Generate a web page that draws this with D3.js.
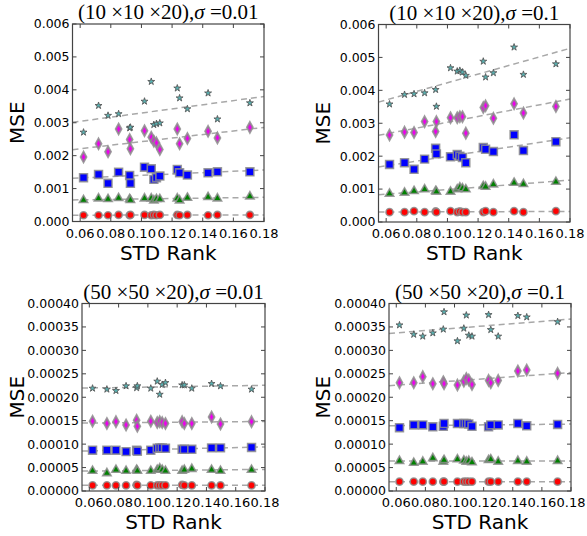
<!DOCTYPE html>
<html>
<head>
<meta charset="utf-8">
<script src="https://cdn.jsdelivr.net/npm/d3@7"></script>
<style>
  body { margin: 0; background: #fff; }
  text { font-family: "DejaVu Sans", sans-serif; fill: #000; }
  .title { font-family: "Liberation Serif", "DejaVu Serif", serif; }
</style>
</head>
<body>
<div id="chart"></div>
<script>
// shared x values (STD rank of each run)
var stdRank = [0.0622, 0.0720, 0.0782, 0.0851, 0.0923, 0.0928, 0.1020, 0.1064, 0.1081,
  0.1098, 0.1120, 0.1234, 0.1249, 0.1300, 0.1435, 0.1496, 0.1708];

var xTicks = [0.06, 0.08, 0.10, 0.12, 0.14, 0.16, 0.18];
var yTicksSmall = [0, 0.001, 0.002, 0.003, 0.004, 0.005, 0.006];
var yTicksLarge = [0, 0.00005, 0.0001, 0.00015, 0.0002, 0.00025, 0.0003, 0.00035, 0.0004];

var titles = ["(10 \u00d710 \u00d720),", "(10 \u00d710 \u00d720),", "(50 \u00d750 \u00d720),", "(50 \u00d750 \u00d720),"];
var sigmas = ["0.01", "0.1", "0.01", "0.1"];

// panel 1: (10x10x20), sigma = 0.01
var p1Circle = [0.00019, 0.00019, 0.00019, 0.0002, 0.00019, 0.0002, 0.0002, 0.00019, 0.0002, 0.00019, 0.0002, 0.0002, 0.00019, 0.0002, 0.00019, 0.0002, 0.0002];
var p1Triangle = [0.00065, 0.0007, 0.00068, 0.00071, 0.00068, 0.00065, 0.0007, 0.0007, 0.00064, 0.00068, 0.00068, 0.0007, 0.00064, 0.00072, 0.00074, 0.0007, 0.00076];
var p1Square = [0.00133, 0.00143, 0.00116, 0.0015, 0.0014, 0.00116, 0.00165, 0.0016, 0.00128, 0.00133, 0.00138, 0.00158, 0.00148, 0.00141, 0.00148, 0.00151, 0.00151];
var p1Diamond = [0.00196, 0.00236, 0.00212, 0.00281, 0.00249, 0.00221, 0.00276, 0.00256, 0.00244, 0.00239, 0.00219, 0.00281, 0.00236, 0.00252, 0.00274, 0.00254, 0.00286];
var p1Star = [0.00271, 0.00352, 0.00322, 0.00327, 0.00284, 0.00286, 0.00365, 0.00425, 0.00294, 0.00297, 0.00299, 0.00405, 0.00375, 0.00342, 0.0039, 0.00311, 0.0036];

// panel 2: (10x10x20), sigma = 0.1
var p2Circle = [0.0003, 0.0003, 0.00033, 0.0003, 0.00032, 0.0003, 0.00033, 0.0003, 0.00032, 0.0003, 0.0003, 0.0003, 0.00033, 0.0003, 0.00033, 0.0003, 0.00033];
var p2Triangle = [0.00086, 0.00089, 0.00094, 0.00099, 0.00094, 0.00092, 0.00092, 0.00099, 0.00105, 0.00102, 0.00099, 0.00109, 0.00107, 0.00114, 0.00119, 0.00115, 0.00122];
var p2Square = [0.00175, 0.0018, 0.0016, 0.00191, 0.00224, 0.00207, 0.00198, 0.00205, 0.002, 0.00196, 0.0018, 0.00226, 0.00221, 0.00214, 0.00265, 0.00217, 0.00244];
var p2Diamond = [0.00264, 0.00273, 0.00272, 0.00305, 0.00275, 0.00305, 0.00317, 0.00317, 0.0032, 0.0032, 0.0027, 0.00348, 0.00353, 0.00315, 0.00359, 0.00331, 0.00351];
var p2Star = [0.00358, 0.00387, 0.00389, 0.00392, 0.00402, 0.00351, 0.00468, 0.00458, 0.0046, 0.00455, 0.00445, 0.00488, 0.0044, 0.00453, 0.00531, 0.00448, 0.0048];

// panel 3: (50x50x20), sigma = 0.01
var p3Circle = [1.2e-5, 1.2e-5, 1.2e-5, 1.2e-5, 1.3e-5, 1.2e-5, 1.2e-5, 1.2e-5, 1.2e-5, 1.2e-5, 1.2e-5, 1.3e-5, 1.2e-5, 1.2e-5, 1.2e-5, 1.2e-5, 1.2e-5];
var p3Triangle = [4.3e-5, 3.8e-5, 4.5e-5, 4.3e-5, 4.5e-5, 4.3e-5, 4.3e-5, 4.5e-5, 4.8e-5, 4.5e-5, 4.3e-5, 4.3e-5, 4.5e-5, 4.7e-5, 4.5e-5, 4.3e-5, 4.5e-5];
var p3Square = [8.7e-5, 8.7e-5, 8.7e-5, 8.4e-5, 8.7e-5, 8.5e-5, 8.7e-5, 9.1e-5, 9.2e-5, 9.2e-5, 9.1e-5, 8.9e-5, 8.9e-5, 8.9e-5, 9.2e-5, 9.2e-5, 9.3e-5];
var p3Diamond = [1.49e-4, 1.44e-4, 1.48e-4, 1.41e-4, 1.51e-4, 1.38e-4, 1.49e-4, 1.46e-4, 1.48e-4, 1.46e-4, 1.44e-4, 1.48e-4, 1.44e-4, 1.44e-4, 1.58e-4, 1.43e-4, 1.48e-4];
var p3Star = [2.19e-4, 2.17e-4, 2.14e-4, 2.24e-4, 2.2e-4, 2.24e-4, 2.19e-4, 2.34e-4, 2.06e-4, 2.27e-4, 2.31e-4, 2.26e-4, 2.26e-4, 2.19e-4, 2.29e-4, 2.24e-4, 2.17e-4];

// panel 4: (50x50x20), sigma = 0.1
var p4Circle = [2e-5, 2e-5, 2e-5, 2e-5, 2e-5, 2e-5, 2e-5, 2e-5, 2e-5, 2e-5, 2e-5, 2e-5, 2e-5, 2e-5, 2e-5, 2e-5, 2e-5];
var p4Triangle = [6.4e-5, 6.0e-5, 6.25e-5, 7.0e-5, 6.25e-5, 6.6e-5, 6.75e-5, 6.5e-5, 6.25e-5, 6.4e-5, 6.1e-5, 6.6e-5, 6.75e-5, 6.25e-5, 6.4e-5, 6.25e-5, 6.4e-5];
var p4Square = [1.35e-4, 1.41e-4, 1.41e-4, 1.37e-4, 1.38e-4, 1.44e-4, 1.44e-4, 1.44e-4, 1.44e-4, 1.43e-4, 1.38e-4, 1.37e-4, 1.41e-4, 1.41e-4, 1.44e-4, 1.39e-4, 1.42e-4];
var p4Diamond = [2.31e-4, 2.31e-4, 2.44e-4, 2.29e-4, 2.33e-4, 2.29e-4, 2.26e-4, 2.34e-4, 2.4e-4, 2.37e-4, 2.27e-4, 2.36e-4, 2.31e-4, 2.36e-4, 2.56e-4, 2.58e-4, 2.51e-4];
var p4Star = [3.54e-4, 3.34e-4, 3.3e-4, 3.37e-4, 3.45e-4, 3.82e-4, 3.2e-4, 3.47e-4, 3.75e-4, 3.32e-4, 3.3e-4, 3.76e-4, 3.44e-4, 3.3e-4, 3.74e-4, 3.71e-4, 3.61e-4];

var width = 587, height = 536;

// marker shapes + fill colours, one per series
var thinDiamond = {
  draw: function(ctx, size) {
    var h = Math.sqrt(size) * 0.75, w = h * 0.55;
    ctx.moveTo(0, -h); ctx.lineTo(w, 0); ctx.lineTo(0, h); ctx.lineTo(-w, 0); ctx.closePath();
  }
};
var markers = [
  { type: d3.symbolCircle, size: 40, fill: "#ff0000", edge: "#8c8c8c", ew: 1.6 },
  { type: d3.symbolTriangle, size: 30, fill: "#008000", edge: "#8c8c8c", ew: 1.6 },
  { type: d3.symbolSquare, size: 62, fill: "#0000ff", edge: "#8c8c8c", ew: 1.6 },
  { type: thinDiamond, size: 48, fill: "#ee00ee", edge: "#8c8c8c", ew: 2 },
  { type: d3.symbolStar, size: 15, fill: "#58b0b0", edge: "#555", ew: 1 }
];

var panels = [
  { left: 72.5, top: 24, w: 191.5, h: 197.5, yMax: 0.006, yTicks: yTicksSmall, fmt: ".3f", mseX: 17,
    series: [p1Circle, p1Triangle, p1Square, p1Diamond, p1Star] },
  { left: 378.5, top: 24.5, w: 191.5, h: 197.5, yMax: 0.006, yTicks: yTicksSmall, fmt: ".3f", mseX: 323,
    series: [p2Circle, p2Triangle, p2Square, p2Diamond, p2Star] },
  { left: 82, top: 303.5, w: 183, h: 187.5, yMax: 0.0004, yTicks: yTicksLarge, fmt: ".5f", mseX: 17,
    series: [p3Circle, p3Triangle, p3Square, p3Diamond, p3Star] },
  { left: 389, top: 303.5, w: 182, h: 187.5, yMax: 0.0004, yTicks: yTicksLarge, fmt: ".5f", mseX: 323,
    series: [p4Circle, p4Triangle, p4Square, p4Diamond, p4Star] }
];

var svg = d3.select("#chart").append("svg")
  .attr("width", width)
  .attr("height", height);

// least squares fit, used for the dashed trend lines
function fit(xs, ys) {
  var mx = d3.mean(xs), my = d3.mean(ys);
  var num = d3.sum(xs, function(x, i) { return (x - mx) * (ys[i] - my); });
  var den = d3.sum(xs, function(x) { return (x - mx) * (x - mx); });
  var b = num / den;
  return function(x) { return my + b * (x - mx); };
}

panels.forEach(function(p, pi) {
  var x = d3.scaleLinear().domain([0.055, 0.18]).range([p.left, p.left + p.w]);
  var y = d3.scaleLinear().domain([0, p.yMax]).range([p.top + p.h, p.top]);
  var g = svg.append("g");

  // trend lines
  p.series.forEach(function(vals) {
    var f = fit(stdRank, vals);
    var dom = x.domain();
    g.append("line")
      .attr("x1", x(dom[0])).attr("y1", y(f(dom[0])))
      .attr("x2", x(dom[1])).attr("y2", y(f(dom[1])))
      .attr("stroke", "#a8a8a8")
      .attr("stroke-width", 1.5)
      .attr("stroke-dasharray", "6,4");
  });

  // markers
  p.series.forEach(function(vals, si) {
    var m = markers[si];
    var sym = d3.symbol().type(m.type).size(m.size);
    g.selectAll(null)
      .data(vals)
      .enter()
      .append("path")
      .attr("d", sym)
      .attr("transform", function(d, i) { return "translate(" + x(stdRank[i]) + "," + y(d) + ")"; })
      .attr("fill", m.fill)
      .attr("stroke", m.edge)
      .attr("stroke-opacity", 0.85)
      .attr("stroke-width", m.ew);
  });

  // frame
  g.append("rect")
    .attr("x", p.left).attr("y", p.top)
    .attr("width", p.w).attr("height", p.h)
    .attr("fill", "none")
    .attr("stroke", "#444")
    .attr("stroke-width", 1.2);

  // ticks inside on all four sides
  var tk = 4;
  xTicks.forEach(function(t) {
    g.append("line").attr("x1", x(t)).attr("x2", x(t)).attr("y1", p.top + p.h).attr("y2", p.top + p.h - tk).attr("stroke", "#444");
    g.append("line").attr("x1", x(t)).attr("x2", x(t)).attr("y1", p.top).attr("y2", p.top + tk).attr("stroke", "#444");
    g.append("text")
      .attr("x", x(t)).attr("y", p.top + p.h + 16)
      .attr("text-anchor", "middle")
      .style("font-size", "13px")
      .text(d3.format(".2f")(t));
  });
  p.yTicks.forEach(function(t) {
    g.append("line").attr("x1", p.left).attr("x2", p.left + tk).attr("y1", y(t)).attr("y2", y(t)).attr("stroke", "#444");
    g.append("line").attr("x1", p.left + p.w).attr("x2", p.left + p.w - tk).attr("y1", y(t)).attr("y2", y(t)).attr("stroke", "#444");
    g.append("text")
      .attr("x", p.left - 3).attr("y", y(t))
      .attr("dy", "0.35em")
      .attr("text-anchor", "end")
      .style("font-size", "12.5px")
      .text(d3.format(p.fmt)(t));
  });

  // titles
  var tt = g.append("text")
    .attr("class", "title")
    .attr("x", p.left + p.w / 2)
    .attr("y", p.top - 5)
    .attr("text-anchor", "middle")
    .style("font-size", "21px");
  tt.append("tspan").text(titles[pi]);
  tt.append("tspan").style("font-style", "italic").text("\u03c3");
  tt.append("tspan").text(" =" + sigmas[pi]);

  // axis labels
  g.append("text")
    .attr("x", p.left + p.w / 2)
    .attr("y", p.top + p.h + 38)
    .attr("text-anchor", "middle")
    .style("font-size", "20px")
    .text("STD Rank");
  g.append("text")
    .attr("transform", "translate(" + p.mseX + "," + (p.top + p.h / 2) + ")rotate(-90)")
    .attr("dy", "0.36em")
    .attr("text-anchor", "middle")
    .style("font-size", "20px")
    .text("MSE");
});
</script>
</body>
</html>
